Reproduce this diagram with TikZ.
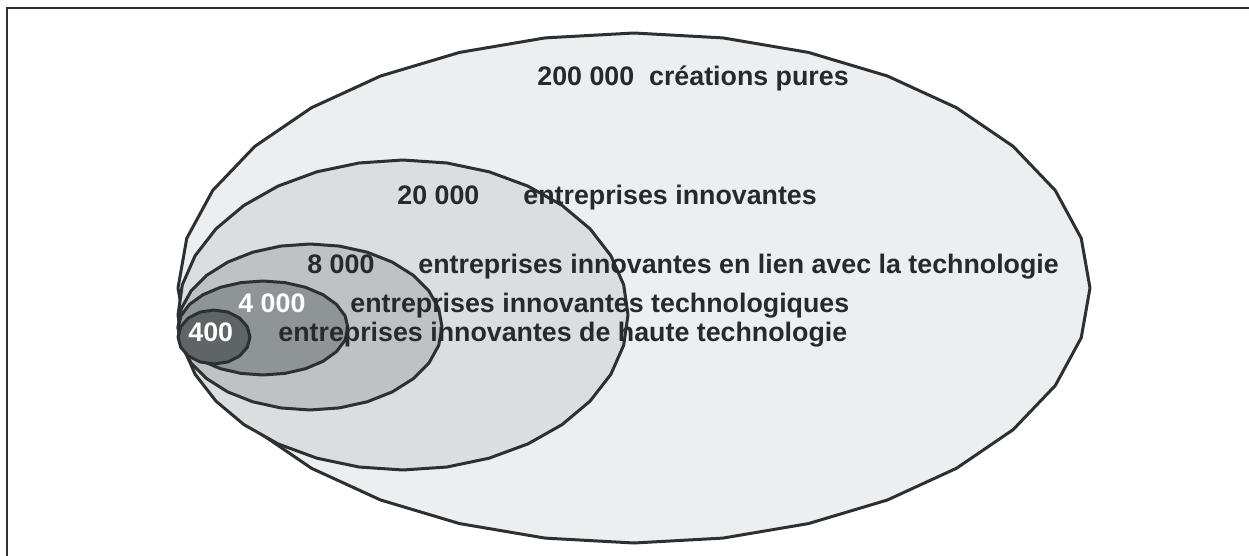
\documentclass[tikz,border=0pt]{standalone}
\usepackage{fontspec}
\setmainfont{Liberation Sans}
\definecolor{lineGray}{HTML}{2B3132}
\definecolor{textGray}{HTML}{262A2B}
\definecolor{fillA}{HTML}{EDEEF0}
\definecolor{fillB}{HTML}{DADEDF}
\definecolor{fillC}{HTML}{BEC2C3}
\definecolor{fillD}{HTML}{8F9496}
\definecolor{fillE}{HTML}{5F6465}
\tikzset{
    zone/.style={draw=lineGray, line width=1.5pt, line join=round},
    label/.style={font=\bfseries\fontsize{13.4}{16}\selectfont, text=textGray, inner sep=0pt, anchor=base west},
}
\begin{document}
\begin{tikzpicture}[x=0.5pt, y=-0.5pt]
        \useasboundingbox (0,0) rectangle (1249,556);
        \draw[draw=lineGray, line width=1.4pt] (7,556) -- (7,8) -- (1249,8);

        % nested sets, biggest first
        \draw[zone, fill=fillA] plot[samples=33, domain=0:360] ({634+456*cos(\x)}, {288+255*sin(\x)}) -- cycle;
        \draw[zone, fill=fillB] plot[samples=33, domain=0:360] ({403+225*cos(\x)}, {315+155*sin(\x)}) -- cycle;
        \draw[zone, fill=fillC] plot[samples=29, domain=0:360] ({310+132*cos(\x)}, {327+83*sin(\x)}) -- cycle;
        \draw[zone, fill=fillD] plot[samples=25, domain=0:360] ({263+85*cos(\x)}, {328+47*sin(\x)}) -- cycle;
        \draw[zone, fill=fillE] plot[samples=17, domain=0:360] ({214+36*cos(\x)}, {337+27*sin(\x)}) -- cycle;

        \node[label] (pures) at (537,86) {200 000~ créations pures};
        \node[label] (n20) at (397,205) {20 000};
        \node[label] (t20) at (523,205) {entreprises innovantes};
        \node[label] (n8) at (307,273) {8 000};
        \node[label] (t8) at (418,273) {entreprises innovantes en lien avec la technologie};
        \node[label, text=white] (n4) at (238,312) {4 000};
        \node[label] (t4) at (350,312) {entreprises innovantes technologiques};
        \node[label, text=white] (n400) at (188,342) {400};
        \node[label] (t400) at (278,342) {entreprises innovantes de haute technologie};
    \end{tikzpicture}
\end{document}
